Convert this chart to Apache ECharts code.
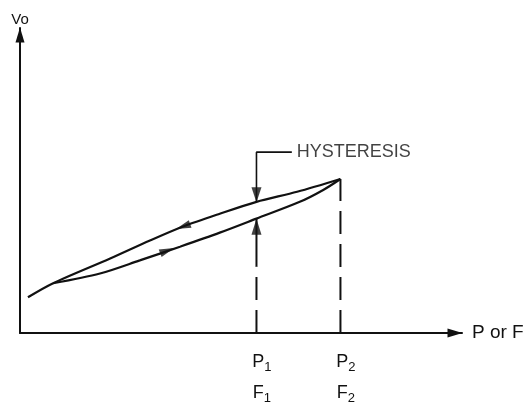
<!DOCTYPE html>
<html>
<head>
<meta charset="utf-8">
<script src="https://cdn.jsdelivr.net/npm/echarts/dist/echarts.min.js"></script>
<style>
html, body { margin: 0; padding: 0; background: #fff; }
#main { width: 530px; height: 405px; }
</style>
</head>
<body>
<div id="main"></div>
<script>
// 加载曲线 (P 增大)
var loadX = [7.5, 18.1, 27.1, 36.2, 45.2, 53.5, 63.3, 68.6, 72.5];
var loadY = [16.3, 19.5, 23.8, 28.3, 32.9, 37.5, 43.0, 46.9, 50.5];
// 卸载曲线 (P 减小), 回到起点
var unloadX = [72.5, 62.7, 53.5, 45.2, 36.9, 29.4, 20.4, 7.5, 1.8];
var unloadY = [50.5, 46.3, 43.0, 39.1, 34.9, 30.3, 24.4, 16.3, 11.7];
// 横轴刻度
var tickValues = [53.5, 72.5];
var tickSubs = ['1', '2'];
// 迟滞标注
var hystX = 53.5;
var hystUpper = 43.0;
var hystLower = 37.5;
var hystShaft = 21.8;
var leaderX = 61.5;
var leaderY = 59.3;
var topY = 50.5;
// 曲线箭头位置
var arrowX = [33.3, 36.9];
var arrowY = [27.0, 34.9];

var ink = '#111';
var font = 'Liberation Sans';

function pairs(xs, ys) {
	var out = [];
	for (var i = 0; i < xs.length; i++) {
		out.push([xs[i], ys[i]]);
	}
	return out;
}

var myChart = echarts.init(document.getElementById('main'));
myChart.setOption({
	animation: false,
	backgroundColor: '#fff',
	grid: { left: 20, right: 68, top: 28, bottom: 70 },
	xAxis: {
		type: 'value',
		min: 0,
		max: 100,
		name: 'P or F',
		nameLocation: 'end',
		nameGap: 10,
		nameTextStyle: { color: ink, fontFamily: font, fontSize: 19 },
		splitLine: { show: false },
		axisTick: { show: false },
		axisLine: {
			onZero: false,
			symbol: ['none', 'triangle'],
			symbolSize: [9, 15],
			symbolOffset: [0, -7],
			lineStyle: { color: ink, width: 2 }
		},
		axisLabel: {
			customValues: tickValues,
			margin: 14,
			padding: [0, 0, 0, 11],
			color: ink,
			formatter: function(v) {
				var s = tickSubs[tickValues.indexOf(v)];
				return '{p|P}{s|' + s + '}\n{p|F}{s|' + s + '}';
			},
			rich: {
				p: { fontFamily: font, fontSize: 18, lineHeight: 31, color: ink },
				s: { fontFamily: font, fontSize: 13, verticalAlign: 'bottom', padding: [0, 0, 4, 0], color: ink }
			}
		}
	},
	yAxis: {
		type: 'value',
		min: 0,
		max: 100,
		name: 'Vo',
		nameLocation: 'end',
		nameGap: 1,
		nameTextStyle: { color: ink, fontFamily: font, fontSize: 15, align: 'center' },
		splitLine: { show: false },
		axisTick: { show: false },
		axisLabel: { show: false },
		axisLine: {
			onZero: false,
			symbol: ['none', 'triangle'],
			symbolSize: [9, 15],
			symbolOffset: [0, -7],
			lineStyle: { color: ink, width: 2 }
		}
	},
	series: [{
		name: 'load',
		type: 'line',
		smooth: 0.3,
		showSymbol: false,
		lineStyle: { color: ink, width: 2.2 },
		data: pairs(loadX, loadY)
	}, {
		name: 'unload',
		type: 'line',
		smooth: 0.3,
		showSymbol: false,
		lineStyle: { color: ink, width: 2.2 },
		data: pairs(unloadX, unloadY)
	}, {
		// P2 虚线
		type: 'line',
		showSymbol: false,
		lineStyle: { color: ink, width: 2, type: [23, 10] },
		data: [[tickValues[1], 0], [tickValues[1], topY]]
	}, {
		// P1 虚线
		type: 'line',
		showSymbol: false,
		lineStyle: { color: ink, width: 2, type: [23, 10] },
		data: [[hystX, 0], [hystX, hystShaft]]
	}, {
		// P1 实线箭杆
		type: 'line',
		showSymbol: false,
		lineStyle: { color: ink, width: 2 },
		data: [[hystX, hystShaft], [hystX, hystLower]]
	}, {
		// 引线
		type: 'line',
		showSymbol: false,
		lineStyle: { color: ink, width: 1.6 },
		data: [[leaderX, leaderY], [hystX, leaderY], [hystX, hystUpper]]
	}, {
		// HYSTERESIS 文字
		type: 'scatter',
		symbolSize: 0,
		label: {
			show: true,
			position: 'right',
			distance: 5,
			formatter: 'HYSTERESIS',
			color: ink,
			fontFamily: font,
			fontSize: 18
		},
		data: [[leaderX, leaderY]]
	}, {
		// 箭头
		type: 'scatter',
		symbol: 'triangle',
		itemStyle: { color: ink },
		data: [
			{ value: [arrowX[0], arrowY[0]], symbolSize: [8, 15], symbolRotate: -69 },
			{ value: [arrowX[1], arrowY[1]], symbolSize: [8, 15], symbolRotate: 110 },
			{ value: [hystX, hystUpper], symbolSize: [10, 15], symbolRotate: 180, symbolOffset: [0, -7] },
			{ value: [hystX, hystLower], symbolSize: [10, 16], symbolRotate: 0, symbolOffset: [0, 8] }
		]
	}]
});
</script>
</body>
</html>
